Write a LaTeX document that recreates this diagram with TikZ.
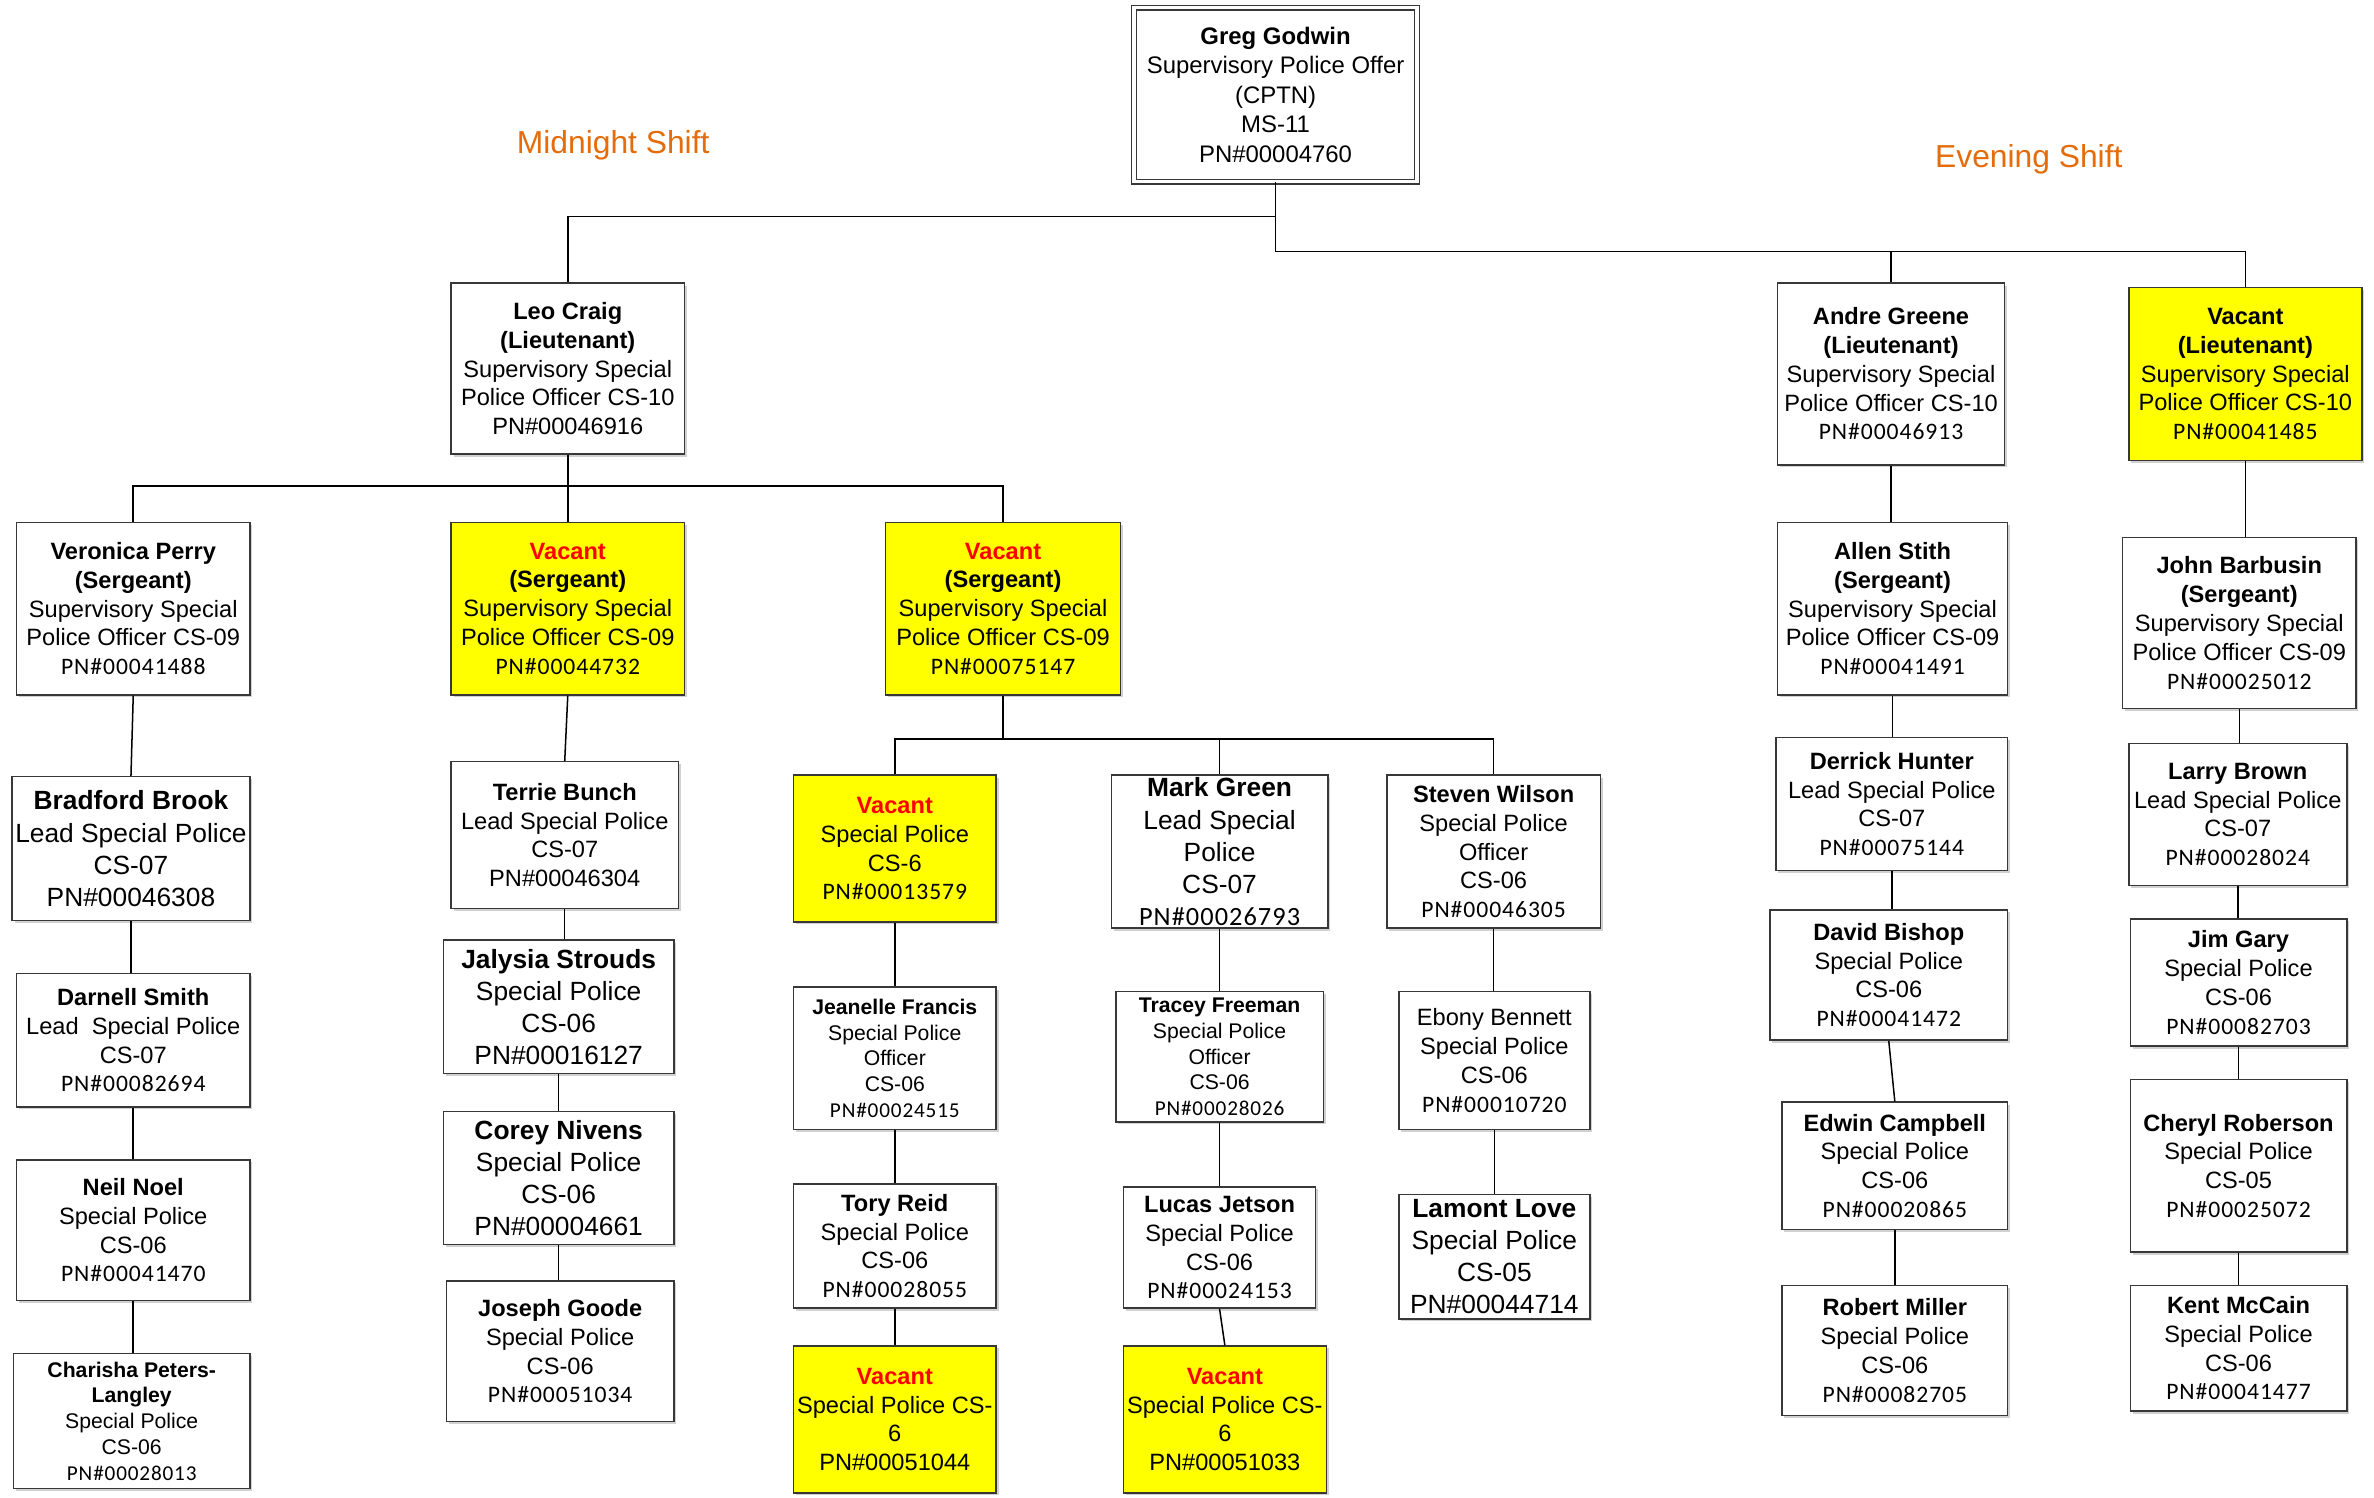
\documentclass[tikz,border=0pt]{standalone}
\usepackage{fontspec}
\setmainfont{Liberation Sans}
\newfontfamily\pnf[LetterSpace=4]{Carlito}
\usetikzlibrary{shadows}
\definecolor{vred}{HTML}{FF0000}
\definecolor{vyel}{HTML}{FFFF00}
\definecolor{shiftorange}{HTML}{E46C0A}
\newcommand\PN[1]{{\pnf #1}}
\newcommand\VAC{\textcolor{vred}{\textbf{Vacant}}}
\tikzset{
  box/.style={draw=black!78, line width=1pt, fill=white, align=center, inner sep=0pt,
    font=\fontsize{15.6}{19}\selectfont,
    drop shadow={shadow xshift=1.6pt, shadow yshift=-1.6pt, fill=black!30, opacity=0.6}},
  vacbox/.style={box, fill=vyel},
  big/.style={font=\fontsize{17.4}{21.2}\selectfont},
  small/.style={font=\fontsize{14}{17}\selectfont},
  topbox/.style={box, double=white, double distance=2.2pt, line width=0.9pt,
    font=\fontsize{15.8}{19.5}\selectfont},
  conn/.style={draw=black, line width=1pt},
  shiftlbl/.style={text=shiftorange, font=\fontsize{21}{25}\selectfont, inner sep=0pt}
}
\begin{document}
\begin{tikzpicture}[x=1pt, y=-1pt]
\useasboundingbox (0,0) rectangle (1568,989);

% labels
\node[shiftlbl] (midnight) at (405,96) {Midnight Shift};
\node[shiftlbl] (evening) at (1340,105) {Evening Shift};

% top
\node[topbox, minimum width=187pt, minimum height=115pt] (greg) at (842.5,62.5)
  {\textbf{Greg Godwin}\\Supervisory Police Offer\\(CPTN)\\MS-11\\PN\#00004760};

% lieutenants
\node[box, minimum width=154pt, minimum height=113pt] (leo) at (375,243.5)
  {\textbf{Leo Craig}\\\textbf{(Lieutenant)}\\Supervisory Special\\Police Officer CS-10\\PN\#00046916};
\node[box, minimum width=150pt, minimum height=120pt] (andre) at (1249,247)
  {\textbf{Andre Greene}\\\textbf{(Lieutenant)}\\Supervisory Special\\Police Officer CS-10\\\PN{PN\#00046913}};
\node[vacbox, minimum width=154pt, minimum height=114pt] (vaclt) at (1483,247)
  {\textbf{Vacant}\\\textbf{(Lieutenant)}\\Supervisory Special\\Police Officer CS-10\\\PN{PN\#00041485}};

% sergeants
\node[box, minimum width=154pt, minimum height=114pt] (veronica) at (88,402)
  {\textbf{Veronica Perry}\\\textbf{(Sergeant)}\\Supervisory Special\\Police Officer CS-09\\\PN{PN\#00041488}};
\node[vacbox, minimum width=154pt, minimum height=114pt] (vacsgta) at (375,402)
  {\VAC\\\textbf{(Sergeant)}\\Supervisory Special\\Police Officer CS-09\\\PN{PN\#00044732}};
\node[vacbox, minimum width=155pt, minimum height=114pt] (vacsgtb) at (662.5,402)
  {\VAC\\\textbf{(Sergeant)}\\Supervisory Special\\Police Officer CS-09\\\PN{PN\#00075147}};
\node[box, minimum width=152pt, minimum height=114pt] (allen) at (1250,402)
  {\textbf{Allen Stith}\\\textbf{(Sergeant)}\\Supervisory Special\\Police Officer CS-09\\\PN{PN\#00041491}};
\node[box, minimum width=154pt, minimum height=113pt] (john) at (1479,411.5)
  {\textbf{John Barbusin}\\\textbf{(Sergeant)}\\Supervisory Special\\Police Officer CS-09\\\PN{PN\#00025012}};

% column 1
\node[box, big, minimum width=157pt, minimum height=95pt] (bradford) at (86.5,560.5)
  {\textbf{Bradford Brook}\\Lead Special Police\\CS-07\\PN\#00046308};
\node[box, minimum width=154pt, minimum height=88pt] (darnell) at (88,687)
  {\textbf{Darnell Smith}\\Lead\ \ Special Police\\CS-07\\\PN{PN\#00082694}};
\node[box, minimum width=154pt, minimum height=93pt] (neil) at (88,812.5)
  {\textbf{Neil Noel}\\Special Police\\CS-06\\\PN{PN\#00041470}};
\node[box, small, minimum width=156pt, minimum height=89pt] (charisha) at (87,938.5)
  {\textbf{Charisha Peters-}\\\textbf{Langley}\\Special Police\\CS-06\\\PN{PN\#00028013}};

% column 2
\node[box, minimum width=150pt, minimum height=97pt] (terrie) at (373,551.5)
  {\textbf{Terrie Bunch}\\Lead Special Police\\CS-07\\PN\#00046304};
\node[box, big, minimum width=152pt, minimum height=88pt] (jalysia) at (369,665)
  {\textbf{Jalysia Strouds}\\Special Police\\CS-06\\PN\#00016127};
\node[box, big, minimum width=152pt, minimum height=88pt] (corey) at (369,778)
  {\textbf{Corey Nivens}\\Special Police\\CS-06\\PN\#00004661};
\node[box, minimum width=150pt, minimum height=93pt] (joseph) at (370,892.5)
  {\textbf{Joseph Goode}\\Special Police\\CS-06\\\PN{PN\#00051034}};

% column 3
\node[vacbox, minimum width=134pt, minimum height=97pt] (vaccs) at (591,560.5)
  {\VAC\\Special Police\\CS-6\\\PN{PN\#00013579}};
\node[box, small, minimum width=134pt, minimum height=94pt] (jeanelle) at (591,699)
  {\textbf{Jeanelle Francis}\\Special Police\\Officer\\CS-06\\\PN{PN\#00024515}};
\node[box, minimum width=134pt, minimum height=82pt] (tory) at (591,823)
  {\textbf{Tory Reid}\\Special Police\\CS-06\\\PN{PN\#00028055}};
\node[vacbox, minimum width=134pt, minimum height=97pt] (vacba) at (591,937.5)
  {\VAC\\Special Police CS-\\6\\PN\#00051044};

% column 4
\node[box, big, minimum width=143pt, minimum height=101pt] (mark) at (805.5,562.5)
  {\textbf{Mark Green}\\Lead Special\\Police\\CS-07\\\PN{PN\#00026793}};
\node[box, small, minimum width=137pt, minimum height=86pt] (tracey) at (805.5,698)
  {\textbf{Tracey Freeman}\\Special Police\\Officer\\CS-06\\\PN{PN\#00028026}};
\node[box, minimum width=127pt, minimum height=80pt] (lucas) at (805.5,824)
  {\textbf{Lucas Jetson}\\Special Police\\CS-06\\\PN{PN\#00024153}};
\node[vacbox, minimum width=134pt, minimum height=97pt] (vacbb) at (809,937.5)
  {\VAC\\Special Police CS-\\6\\PN\#00051033};

% column 5
\node[box, minimum width=141pt, minimum height=101pt] (steven) at (986.5,562.5)
  {\textbf{Steven Wilson}\\Special Police\\Officer\\CS-06\\\PN{PN\#00046305}};
\node[box, minimum width=126pt, minimum height=91pt] (ebony) at (987,700.5)
  {Ebony Bennett\\Special Police\\CS-06\\\PN{PN\#00010720}};
\node[box, big, minimum width=126pt, minimum height=82pt] (lamont) at (987,830)
  {\textbf{Lamont Love}\\Special Police\\CS-05\\PN\#00044714};

% column 6
\node[box, minimum width=153pt, minimum height=88pt] (derrick) at (1249.5,531)
  {\textbf{Derrick Hunter}\\Lead Special Police\\CS-07\\\PN{PN\#00075144}};
\node[box, minimum width=157pt, minimum height=86pt] (david) at (1247.5,644)
  {\textbf{David Bishop}\\Special Police\\CS-06\\\PN{PN\#00041472}};
\node[box, minimum width=149pt, minimum height=84pt] (edwin) at (1251.5,770)
  {\textbf{Edwin Campbell}\\Special Police\\CS-06\\\PN{PN\#00020865}};
\node[box, minimum width=149pt, minimum height=86pt] (robert) at (1251.5,892)
  {\textbf{Robert Miller}\\Special Police\\CS-06\\\PN{PN\#00082705}};

% column 7
\node[box, minimum width=144pt, minimum height=94pt] (larry) at (1478,538)
  {\textbf{Larry Brown}\\Lead Special Police\\CS-07\\\PN{PN\#00028024}};
\node[box, minimum width=143pt, minimum height=84pt] (jim) at (1478.5,649)
  {\textbf{Jim Gary}\\Special Police\\CS-06\\\PN{PN\#00082703}};
\node[box, minimum width=143pt, minimum height=114pt] (cheryl) at (1478.5,770)
  {\textbf{Cheryl Roberson}\\Special Police\\CS-05\\\PN{PN\#00025072}};
\node[box, minimum width=143pt, minimum height=83pt] (kent) at (1478.5,890.5)
  {\textbf{Kent McCain}\\Special Police\\CS-06\\\PN{PN\#00041477}};

% bus levels
\coordinate (busL) at (0,143);
\coordinate (busR) at (0,166);
\coordinate (busM) at (0,321);
\coordinate (busS) at (0,488);

\draw[conn] (greg.south) -- (greg.south |- busL) -| (leo.north);
\draw[conn] (greg.south |- busL) -- (greg.south |- busR) -| (andre.north);
\draw[conn] (greg.south |- busR) -| (vaclt.north);

\draw[conn] (leo.south) -- (leo.south |- busM) -| (veronica.north);
\draw[conn] (leo.south |- busM) -- (vacsgta.north);
\draw[conn] (leo.south |- busM) -| (vacsgtb.north);

\draw[conn] (vacsgtb.south) -- (vacsgtb.south |- busS) -| (vaccs.north);
\draw[conn] (vacsgtb.south |- busS) -| (mark.north);
\draw[conn] (vacsgtb.south |- busS) -| (steven.north);

% slightly slanted links, as drawn in the reference
\draw[conn] (veronica.south) -- (bradford.north);
\draw[conn] (david.south) -- (edwin.north);
\draw[conn] (lucas.south) -- (vacbb.north);
\draw[conn] (vacsgta.south) -- (terrie.north);

% vertical links
\draw[conn] (bradford.south) -- (bradford.south |- darnell.north);
\draw[conn] (darnell.south) -- (darnell.south |- neil.north);
\draw[conn] (neil.south) -- (neil.south |- charisha.north);

\draw[conn] (terrie.south) -- (terrie.south |- jalysia.north);
\draw[conn] (jalysia.south) -- (jalysia.south |- corey.north);
\draw[conn] (corey.south) -- (corey.south |- joseph.north);

\draw[conn] (vaccs.south) -- (jeanelle.north);
\draw[conn] (jeanelle.south) -- (tory.north);
\draw[conn] (tory.south) -- (vacba.north);

\draw[conn] (mark.south) -- (tracey.north);
\draw[conn] (tracey.south) -- (lucas.north);

\draw[conn] (steven.south) -- (steven.south |- ebony.north);
\draw[conn] (ebony.south) -- (lamont.north);

\draw[conn] (andre.south) -- (andre.south |- allen.north);
\draw[conn] (allen.south) -- (allen.south |- derrick.north);
\draw[conn] (derrick.south) -- (derrick.south |- david.north);
\draw[conn] (edwin.south) -- (robert.north);

\draw[conn] (vaclt.south) -- (vaclt.south |- john.north);
\draw[conn] (john.south) -- (john.south |- larry.north);
\draw[conn] (larry.south) -- (larry.south |- jim.north);
\draw[conn] (jim.south) -- (jim.south |- cheryl.north);
\draw[conn] (cheryl.south) -- (cheryl.south |- kent.north);
\end{tikzpicture}
\end{document}
